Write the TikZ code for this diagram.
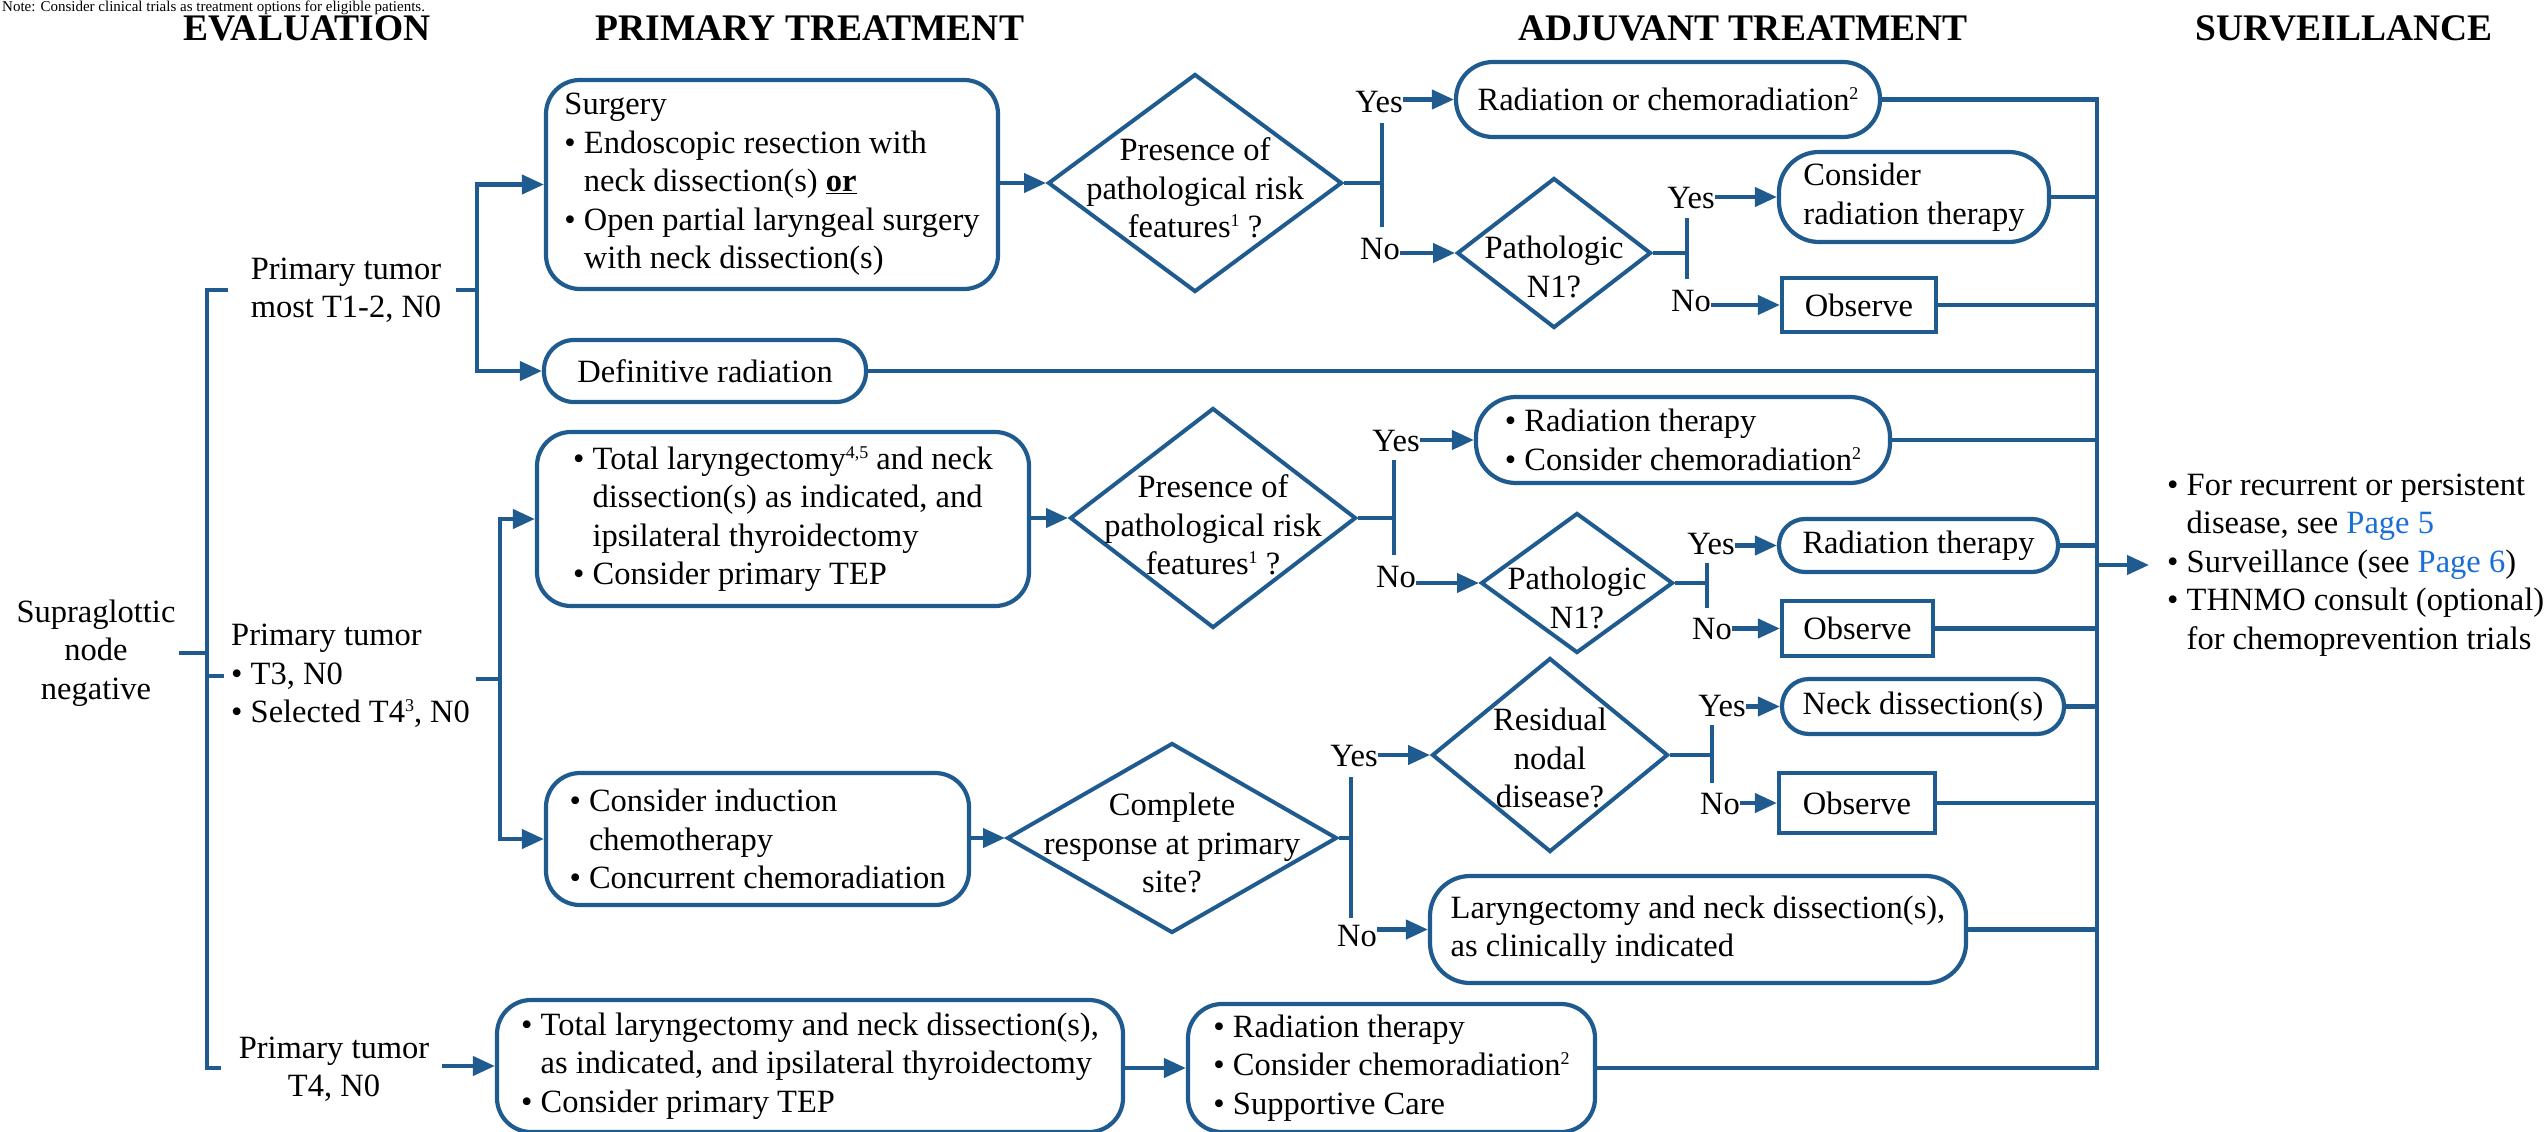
\documentclass[tikz,border=0pt]{standalone}
\usepackage{fontspec}
\setmainfont{Liberation Serif}
\usetikzlibrary{shapes.geometric,arrows.meta,calc}
\definecolor{lineblue}{RGB}{31,91,142}
\definecolor{linkblue}{RGB}{26,111,214}
% bullet item start and hanging indent for continuation lines
\newcommand\bul{\textbullet\ }
\newcommand\hang{\phantom{\textbullet\ }}
% small raised footnote marks
\newcommand\sups[1]{\raisebox{11pt}{\fontsize{18}{18}\selectfont #1}}

\begin{document}
\begin{tikzpicture}[x=1pt,y=-1pt,
  body/.style={font=\fontsize{32.5}{38.5}\selectfont, inner sep=0pt},
  head/.style={font=\fontsize{37.5}{40}\selectfont\bfseries, inner sep=0pt},
  flow/.style={draw=lineblue, line width=4.2pt},
  arr/.style={flow, -{Triangle[length=22pt,width=19pt]}},
  rbox/.style={body, draw=lineblue, line width=4.2pt, rounded corners=#1, align=left},
  rbox/.default=34pt,
  sbox/.style={body, draw=lineblue, line width=4.2pt},
  dia/.style={draw=lineblue, line width=4pt, diamond, inner sep=0pt},
  yn/.style={body},
]
\useasboundingbox (0,0) rectangle (2546,1132);

% note line along the top edge
\node[font=\fontsize{15}{16}\selectfont, inner sep=0pt, anchor=base west] (note) at (2,11.5)
  {Note: Consider clinical trials as treatment options for eligible patients.};

% column headings
\node[head] (hEval) at (307,28) {EVALUATION};
\node[head] (hPrim) at (810,28) {PRIMARY TREATMENT};
\node[head] (hAdj)  at (1743,28) {ADJUVANT TREATMENT};
\node[head] (hSurv) at (2344,28) {SURVEILLANCE};

% evaluation column
\node[body, align=center] (supra) at (96,653) {Supraglottic\\node\\negative};
\node[body, align=left] (pt12) at (346,290) {Primary tumor\\most T1-2, N0};
\node[body, align=left, anchor=west] (pt3) at (231,676) {Primary tumor\\\bul T3, N0\\\bul Selected T4\sups{3}, N0};
\node[body, align=center] (pt4) at (334,1069) {Primary tumor\\T4, N0};

% primary treatment boxes
\node[rbox, minimum width=452pt, minimum height=209pt] (surg) at (772,184.5)
  {Surgery\\\bul Endoscopic resection with\\\hang neck dissection(s) \textbf{\underline{or}}\\\bul Open partial laryngeal surgery\\\hang with neck dissection(s)};
\node[rbox=30pt, minimum width=322pt, minimum height=62pt, align=center] (defrad) at (705,371) {Definitive radiation};
\node[rbox, minimum width=492pt, minimum height=174pt] (tl) at (783,519)
  {\bul Total laryngectomy\sups{4,5} and neck\\\hang dissection(s) as indicated, and\\\hang ipsilateral thyroidectomy\\\bul Consider primary TEP};
\node[rbox, minimum width=423pt, minimum height=132pt] (ind) at (757.5,839)
  {\bul Consider induction\\\hang chemotherapy\\\bul Concurrent chemoradiation};
\node[rbox, minimum width=626pt, minimum height=132pt] (t4box) at (810,1066)
  {\bul Total laryngectomy and neck dissection(s),\\\hang as indicated, and ipsilateral thyroidectomy\\\bul Consider primary TEP};

% decision diamonds
\node[dia, minimum width=294pt, minimum height=218pt] (d1) at (1195,183) {};
\node[body, align=center] (d1t) at (1195,188) {Presence of\\pathological risk\\features\sups{1} ?};
\node[dia, minimum width=194pt, minimum height=150pt] (pn1) at (1554,253) {};
\node[body, align=center] (pn1t) at (1554,267) {Pathologic\\N1?};
\node[dia, minimum width=286pt, minimum height=220pt] (d2) at (1213,518) {};
\node[body, align=center] (d2t) at (1213,525) {Presence of\\pathological risk\\features\sups{1} ?};
\node[dia, minimum width=192pt, minimum height=140pt] (pn2) at (1577,583) {};
\node[body, align=center] (pn2t) at (1577,598) {Pathologic\\N1?};
\node[dia, minimum width=330pt, minimum height=190pt] (d3) at (1172,838) {};
\node[body, align=center] (d3t) at (1172,843) {Complete\\response at primary\\site?};
\node[dia, minimum width=236pt, minimum height=194pt] (rnd) at (1550,755) {};
\node[body, align=center] (rndt) at (1550,758) {Residual\\nodal\\disease?};

% adjuvant treatment boxes
\node[rbox=37pt, minimum width=424pt, minimum height=75pt, align=center] (rcr) at (1668,99.5) {Radiation or chemoradiation\sups{2}};
\node[rbox=40pt, minimum width=270pt, minimum height=90pt] (crt) at (1914,197) {Consider\\radiation therapy};
\node[sbox, minimum width=154pt, minimum height=54pt] (obs1) at (1859,305) {Observe};
\node[rbox=40pt, minimum width=414pt, minimum height=86pt] (rtcrt) at (1683,440) {\bul Radiation therapy\\\bul Consider chemoradiation\sups{2}};
\node[rbox=26pt, minimum width=279pt, minimum height=53pt, align=center] (rt2) at (1918.5,545.5) {Radiation therapy};
\node[sbox, minimum width=151pt, minimum height=55pt] (obs2) at (1857.5,628.5) {Observe};
\node[rbox=27pt, minimum width=282pt, minimum height=55pt, align=center] (nd) at (1923,706.5) {Neck dissection(s)};
\node[sbox, minimum width=156pt, minimum height=60pt] (obs3) at (1857,803) {Observe};
\node[rbox=40pt, minimum width=536pt, minimum height=107pt] (lar) at (1698,929.5) {Laryngectomy and neck dissection(s),\\as clinically indicated};
\node[rbox, minimum width=407pt, minimum height=128pt] (t4rt) at (1391.5,1068)
  {\bul Radiation therapy\\\bul Consider chemoradiation\sups{2}\\\bul Supportive Care};

% surveillance text
\node[body, align=left, anchor=west] (surv) at (2167,565)
  {\bul For recurrent or persistent\\\hang disease, see \textcolor{linkblue}{Page 5}\\\bul Surveillance (see \textcolor{linkblue}{Page 6})\\\bul THNMO consult (optional)\\\hang for chemoprevention trials};

% yes / no labels
\node[yn] (y1) at (1379,102) {Yes};
\node[yn] (n1) at (1380,249) {No};
\node[yn] (y2) at (1691,198) {Yes};
\node[yn] (n2) at (1691,301) {No};
\node[yn] (y3) at (1396,441) {Yes};
\node[yn] (n3) at (1396,577) {No};
\node[yn] (y4) at (1711,544) {Yes};
\node[yn] (n4) at (1712,629) {No};
\node[yn] (y5) at (1354,756) {Yes};
\node[yn] (n5) at (1357,936) {No};
\node[yn] (y6) at (1722,706) {Yes};
\node[yn] (n6) at (1720,804) {No};

% junction points
\coordinate (bkT) at (207,292);
\coordinate (bkB) at (207,1068);
\coordinate (fA) at (477,290);
\coordinate (fB) at (500,679);
\coordinate (j1) at (1382,183);   \coordinate (j1t) at (1382,123); \coordinate (j1b) at (1382,227);
\coordinate (j2) at (1687,253);   \coordinate (j2t) at (1687,218); \coordinate (j2b) at (1687,279);
\coordinate (j3) at (1394,518);   \coordinate (j3t) at (1394,460); \coordinate (j3b) at (1394,555);
\coordinate (j4) at (1707,583);   \coordinate (j4t) at (1707,563); \coordinate (j4b) at (1707,608);
\coordinate (j5) at (1351,838);   \coordinate (j5t) at (1351,777); \coordinate (j5b) at (1351,918);
\coordinate (j6) at (1712,755);   \coordinate (j6t) at (1712,725); \coordinate (j6b) at (1712,783);
\coordinate (barx) at (2097,0);

% evaluation bracket
\draw[flow] ([xshift=-23pt]pt12.west) -| (bkB) -- ++(14,0);
\draw[flow] ([xshift=3.5pt]supra.east) -- (supra.east -| bkB);
\draw[flow] (pt3.west -| bkB) -- ([xshift=-7pt]pt3.west);

% evaluation to primary treatment
\draw[flow] ([xshift=15pt]pt12.east) -- (fA);
\draw[arr] (fA) |- (surg.west);
\draw[arr] (fA) |- (defrad.west);
\draw[flow] ([xshift=6pt]pt3.east |- fB) -- (fB);
\draw[arr] (fB) |- (tl.west);
\draw[arr] (fB) |- (ind.west);
\draw[arr] ([xshift=13pt]pt4.east |- t4box.west) -- (t4box.west);

% primary treatment to decisions
\draw[arr] (surg.east |- d1.west) -- (d1.west);
\draw[arr] (tl.east |- d2.west) -- (d2.west);
\draw[arr] (ind.east |- d3.west) -- (d3.west);
\draw[arr] (t4box.east |- t4rt.west) -- (t4rt.west);

% decision forks
\draw[flow] (d1.east) -- (j1);   \draw[flow] (j1t) -- (j1b);
\draw[flow] (pn1.east) -- (j2);  \draw[flow] (j2t) -- (j2b);
\draw[flow] (d2.east) -- (j3);   \draw[flow] (j3t) -- (j3b);
\draw[flow] (pn2.east) -- (j4);  \draw[flow] (j4t) -- (j4b);
\draw[flow] (d3.east) -- (j5);   \draw[flow] (j5t) -- (j5b);
\draw[flow] (rnd.east) -- (j6);  \draw[flow] (j6t) -- (j6b);

% branch arrows
\draw[arr] (rcr.west -| y1.east) -- (rcr.west);
\draw[arr] (pn1.west -| n1.east) -- (pn1.west);
\draw[arr] (crt.west -| y2.east) -- (crt.west);
\draw[arr] (obs1.west -| n2.east) -- (obs1.west);
\draw[arr] (rtcrt.west -| y3.east) -- (rtcrt.west);
\draw[arr] (pn2.west -| n3.east) -- (pn2.west);
\draw[arr] (rt2.west -| y4.east) -- (rt2.west);
\draw[arr] (obs2.west -| n4.east) -- (obs2.west);
\draw[arr] (rnd.west -| y5.east) -- (rnd.west);
\draw[arr] (lar.west -| n5.east) -- (lar.west);
\draw[arr] (nd.west -| y6.east) -- (nd.west);
\draw[arr] (obs3.west -| n6.east) -- (obs3.west);

% collecting bar into surveillance
\draw[flow] (rcr.east) -- (rcr.east -| barx) -- (t4rt.east -| barx) -- (t4rt.east);
\foreach \n in {crt,obs1,defrad,rtcrt,rt2,obs2,nd,obs3,lar}
  \draw[flow] (\n.east) -- (\n.east -| barx);
\draw[arr] (surv.west -| barx) -- ([xshift=-18pt]surv.west);
\end{tikzpicture}
\end{document}
